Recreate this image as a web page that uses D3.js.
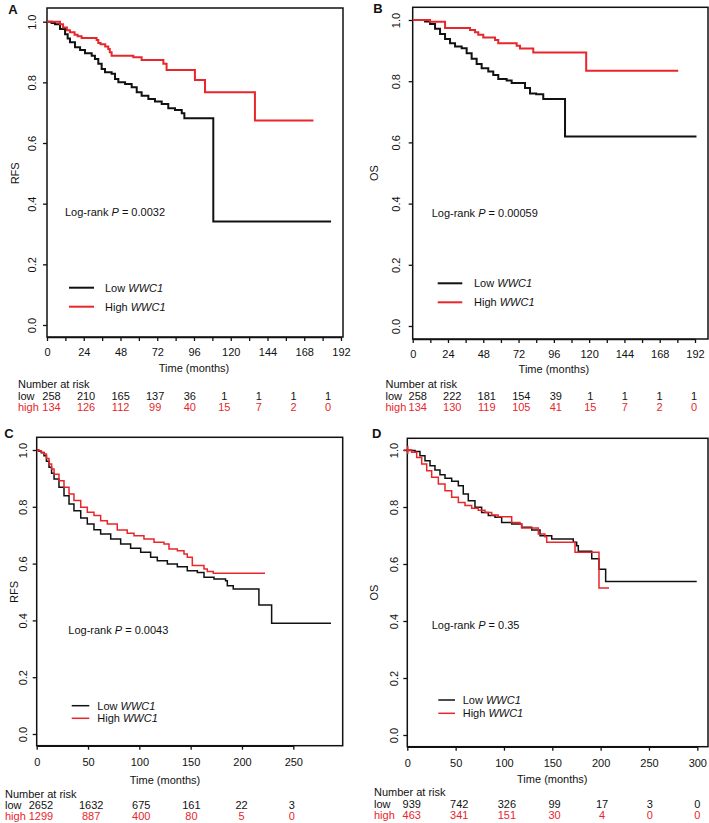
<!DOCTYPE html>
<html>
<head>
<meta charset="utf-8">
<script src="https://cdn.jsdelivr.net/npm/d3@7"></script>
<style>
    body { margin: 0; background: #fff; }
    svg text { font-family: "Liberation Sans", Arial, sans-serif; font-size: 11px; fill: #111; }
    .risk-high { fill: #e8262b; }
</style>
</head>
<body>
<div id="chart"></div>
<script>

// ---- data: Kaplan-Meier step points [months, survival] ----
const rfsA_low = [[0,1],[3,0.996],[5.2,0.992],[8.5,0.976],[11.8,0.959],[13.5,0.945],[15,0.932],[18.3,0.916],[21.6,0.907],[24.8,0.896],[29.2,0.888],[31.3,0.877],[33.5,0.861],[35.7,0.844],[37.9,0.833],[42.2,0.828],[44.4,0.811],[46.6,0.8],[51,0.795],[55.3,0.784],[58.6,0.767],[61.8,0.756],[66.2,0.745],[70.5,0.737],[74.9,0.729],[79.2,0.715],[83.6,0.709],[88,0.698],[89.7,0.682],[108.6,0.341],[185.5,0.341]];
const rfsA_high = [[0,1],[8.5,0.992],[10.5,0.981],[13,0.972],[15,0.965],[18,0.957],[20,0.952],[22.6,0.946],[32.4,0.94],[33.5,0.93],[35,0.926],[38,0.918],[40,0.91],[41,0.899],[42.2,0.888],[56.4,0.883],[61.8,0.874],[76,0.861],[78.1,0.841],[96.6,0.808],[103.2,0.767],[135.8,0.674],[174,0.674]];

const osB_low = [[0,1],[8.4,0.995],[11.8,0.987],[15.2,0.971],[18.6,0.954],[22,0.938],[25.4,0.924],[28.8,0.913],[33.3,0.908],[36.7,0.891],[40.1,0.873],[43.5,0.856],[46.9,0.842],[51.4,0.832],[54.8,0.82],[58.2,0.807],[63.9,0.802],[67.3,0.794],[76.4,0.778],[79.8,0.76],[84,0.757],[88.8,0.742],[103.6,0.619],[193,0.619]];
const osB_high = [[0,1],[11.8,0.994],[22,0.974],[39,0.967],[42.4,0.96],[44.6,0.952],[48,0.943],[56,0.935],[58.2,0.924],[70.7,0.916],[73,0.907],[82,0.894],[118,0.834],[180.6,0.834]];

const rfsC_low = [[0,1],[2,0.996],[4.5,0.99],[7.1,0.98],[9.5,0.96],[12,0.939],[14.5,0.918],[16.9,0.898],[21.7,0.869],[26.6,0.839],[31.5,0.81],[36.3,0.786],[42.9,0.761],[49.3,0.739],[55.8,0.719],[62.3,0.704],[72.1,0.687],[81.8,0.669],[91.5,0.654],[101.3,0.64],[111,0.622],[117.5,0.61],[127.3,0.599],[137,0.589],[146.7,0.575],[156.5,0.569],[163,0.552],[172.7,0.546],[184,0.54],[185.7,0.522],[191.5,0.511],[216.5,0.454],[228.9,0.39],[286.7,0.39]];
const rfsC_high = [[0,1],[2,0.997],[4.5,0.992],[7.1,0.986],[9.5,0.97],[12,0.951],[14.5,0.933],[16.9,0.915],[21.7,0.892],[26.6,0.869],[31.5,0.845],[36.3,0.822],[42.9,0.798],[49.3,0.781],[55.8,0.769],[62.3,0.751],[68.8,0.739],[78.5,0.718],[88.2,0.707],[94.8,0.698],[104.5,0.687],[114.3,0.675],[124,0.669],[128.9,0.651],[137,0.645],[143.5,0.634],[146.7,0.622],[151.6,0.593],[163,0.581],[166.2,0.572],[172,0.566],[222.4,0.566]];

const osD_low = [[0,1],[1,0.998],[8,0.995],[13.1,0.98],[18.3,0.962],[23.5,0.945],[28.6,0.93],[33.8,0.913],[39,0.901],[45.9,0.89],[52.8,0.875],[57.9,0.846],[63.1,0.822],[70,0.799],[76.9,0.781],[83.8,0.77],[90.7,0.764],[97.6,0.746],[108,0.74],[118.3,0.729],[128.7,0.719],[137.3,0.699],[149.4,0.688],[171.7,0.676],[175.2,0.664],[176.9,0.645],[190.8,0.618],[198.3,0.582],[205.2,0.539],[299.4,0.539]];
const osD_high = [[0,1],[4.5,0.992],[9.7,0.974],[14.9,0.951],[20.1,0.927],[25.2,0.904],[32.1,0.881],[39,0.857],[45.9,0.834],[52.8,0.816],[59.7,0.805],[66.6,0.796],[73.4,0.789],[80.4,0.781],[87.3,0.772],[94,0.766],[108,0.746],[116.6,0.74],[118.3,0.726],[135.5,0.705],[142.4,0.696],[144.2,0.676],[173.5,0.641],[198.3,0.516],[208.7,0.516]];
// censor mark visible at the start of D (high)
const osD_highCensor = [[0.5, 1]];

// ---- number at risk ----
const riskTimesAB = [0, 24, 48, 72, 96, 120, 144, 168, 192];
const riskA_low = [258, 210, 165, 137, 36, 1, 1, 1, 1];
const riskA_high = [134, 126, 112, 99, 40, 15, 7, 2, 0];
const riskB_low = [258, 222, 181, 154, 39, 1, 1, 1, 1];
const riskB_high = [134, 130, 119, 105, 41, 15, 7, 2, 0];
const riskTimesC = [0, 50, 100, 150, 200, 250];
const riskC_low = [2652, 1632, 675, 161, 22, 3];
const riskC_high = [1299, 887, 400, 80, 5, 0];
const riskTimesD = [0, 50, 100, 150, 200, 250, 300];
const riskD_low = [939, 742, 326, 99, 17, 3, 0];
const riskD_high = [463, 341, 151, 30, 4, 0, 0];

const yTicks = [0, 0.2, 0.4, 0.6, 0.8, 1.0];
const pValues = ["0.0032", "0.00059", "0.0043", "0.35"];

const RED = "#e8262b", BLACK = "#111";

const svg = d3.select("#chart").append("svg")
    .attr("width", 709)
    .attr("height", 823);

// layout of each panel (pixel positions)
const panels = [
    {letter: "A", ylab: "RFS", p: pValues[0], low: rfsA_low, high: rfsA_high, censor: [],
     box: [47, 8, 343, 337], xr: [47, 341], xmax: 192, yr: [325, 21.7],
     ticks: d3.range(0, 193, 12), labelEvery: 24, lw: 2,
     letterPos: [13, 14], ylabX: 15, ytOff: 11.5, xtY: 355.5, xlabY: 372,
     pPos: [65, 215.5], leg: [69, 94, 287.7, 306.7, 105],
     riskTimes: riskTimesAB, riskLow: riskA_low, riskHigh: riskA_high,
     riskR: [51.5, 328], riskX0: 18, riskY: [388, 400, 410.5]},
    {letter: "B", ylab: "OS", p: pValues[1], low: osB_low, high: osB_high, censor: [],
     box: [412.7, 7.3, 708, 339], xr: [412.7, 695], xmax: 192, yr: [326, 20],
     ticks: d3.range(0, 193, 12), labelEvery: 24, lw: 2,
     letterPos: [378, 13], ylabX: 374, ytOff: 12.5, xtY: 358, xlabY: 373,
     pPos: [431.7, 217], leg: [437.7, 462.3, 283.3, 302.3, 474],
     riskTimes: riskTimesAB, riskLow: riskB_low, riskHigh: riskB_high,
     riskR: [417.7, 694], riskX0: 385.5, riskY: [388, 400, 410.5]},
    {letter: "C", ylab: "RFS", p: pValues[2], low: rfsC_low, high: rfsC_high, censor: [],
     box: [36.7, 437.3, 342.7, 745.7], xr: [36.7, 293.3], xmax: 250, yr: [734, 450],
     ticks: d3.range(0, 251, 50), labelEvery: 50, lw: 1.5,
     letterPos: [9, 437.5], ylabX: 14, ytOff: 9.5, xtY: 766.5, xlabY: 784,
     pPos: [68.3, 634], leg: [71.7, 89.3, 705.7, 718.3, 97.3],
     riskTimes: riskTimesC, riskLow: riskC_low, riskHigh: riskC_high,
     riskR: [41, 291.7], riskX0: 5, riskY: [798.3, 809, 820]},
    {letter: "D", ylab: "OS", p: pValues[3], low: osD_low, high: osD_high, censor: osD_highCensor,
     box: [407.3, 438.3, 708, 746.7], xr: [407.3, 697.3], xmax: 300, yr: [735, 450],
     ticks: d3.range(0, 301, 50), labelEvery: 50, lw: 1.5,
     letterPos: [376.7, 438], ylabX: 374, ytOff: 9, xtY: 767, xlabY: 783.3,
     pPos: [431.7, 629], leg: [438.3, 455, 700, 713.3, 462.7],
     riskTimes: riskTimesD, riskLow: riskD_low, riskHigh: riskD_high,
     riskR: [411.7, 697.3], riskX0: 374, riskY: [795.7, 808, 819]}
];

panels.forEach(function(cfg) {
    let g = svg.append("g");

    let x = d3.scaleLinear().domain([0, cfg.xmax]).range(cfg.xr);
    let y = d3.scaleLinear().domain([0, 1]).range(cfg.yr);

    // box
    g.append("rect")
        .attr("x", cfg.box[0]).attr("y", cfg.box[1])
        .attr("width", cfg.box[2] - cfg.box[0])
        .attr("height", cfg.box[3] - cfg.box[1])
        .attr("fill", "none").attr("stroke", BLACK).attr("stroke-width", 1.5);

    // x axis
    let xAxis = d3.axisBottom(x)
        .tickValues(cfg.ticks)
        .tickSize(4)
        .tickSizeOuter(0)
        .tickFormat(d => d % cfg.labelEvery === 0 ? d : "");
    let xg = g.append("g")
        .attr("transform", "translate(0," + cfg.box[3] + ")")
        .call(xAxis);
    xg.select(".domain").attr("stroke", BLACK).attr("stroke-width", 1.5);
    xg.selectAll(".tick line").attr("stroke", BLACK).attr("stroke-width", 1.3);
    xg.selectAll(".tick text")
        .attr("y", cfg.xtY - cfg.box[3]).attr("dy", 0)
        .style("font-size", "11px").attr("fill", BLACK);

    // y axis with rotated labels (R style)
    let yg = g.append("g")
        .attr("transform", "translate(" + cfg.box[0] + ",0)")
        .call(d3.axisLeft(y).tickValues(yTicks).tickSize(4).tickSizeOuter(0).tickFormat(d3.format(".1f")));
    yg.select(".domain").remove();
    yg.selectAll(".tick line").attr("stroke", BLACK).attr("stroke-width", 1.3);
    yg.selectAll(".tick text")
        .attr("x", 0).attr("dy", 0)
        .attr("text-anchor", "middle")
        .attr("transform", "translate(" + (-cfg.ytOff) + ",0) rotate(-90)")
        .style("font-size", "11px").attr("fill", BLACK);

    // curves
    let line = d3.line()
        .x(d => x(d[0]))
        .y(d => y(d[1]))
        .curve(d3.curveStepAfter);

    g.append("path").datum(cfg.low)
        .attr("d", line).attr("fill", "none")
        .attr("stroke", BLACK).attr("stroke-width", cfg.lw);
    g.append("path").datum(cfg.high)
        .attr("d", line).attr("fill", "none")
        .attr("stroke", RED).attr("stroke-width", cfg.lw);

    // censor marks (+)
    g.selectAll(".censor").data(cfg.censor).enter().append("path")
        .attr("d", d => {
            let cx = x(d[0]), cy = y(d[1]);
            return "M" + (cx - 4) + "," + cy + "H" + (cx + 4) + "M" + cx + "," + (cy - 4) + "V" + (cy + 4);
        })
        .attr("stroke", RED).attr("stroke-width", 1.5);

    // panel letter
    g.append("text")
        .attr("x", cfg.letterPos[0]).attr("y", cfg.letterPos[1])
        .attr("text-anchor", "middle")
        .style("font-size", "13px").style("font-weight", "bold")
        .text(cfg.letter);

    // y label
    g.append("text")
        .attr("transform", "translate(" + (cfg.ylabX + 4) + "," + y(0.5) + ") rotate(-90)")
        .attr("text-anchor", "middle")
        .text(cfg.ylab);

    // x label
    g.append("text")
        .attr("x", (cfg.xr[0] + cfg.xr[1]) / 2)
        .attr("y", cfg.xlabY)
        .attr("text-anchor", "middle")
        .text("Time (months)");

    // log-rank p
    let pt = g.append("text").attr("x", cfg.pPos[0]).attr("y", cfg.pPos[1]);
    pt.append("tspan").text("Log-rank ");
    pt.append("tspan").style("font-style", "italic").text("P");
    pt.append("tspan").text(" = " + cfg.p);

    // legend
    let legItems = [["Low ", BLACK, cfg.leg[2]], ["High ", RED, cfg.leg[3]]];
    legItems.forEach(function(item) {
        g.append("line")
            .attr("x1", cfg.leg[0]).attr("x2", cfg.leg[1])
            .attr("y1", item[2]).attr("y2", item[2])
            .attr("stroke", item[1]).attr("stroke-width", cfg.lw);
        let t = g.append("text").attr("x", cfg.leg[4]).attr("y", item[2] + 4);
        t.append("tspan").text(item[0]);
        t.append("tspan").style("font-style", "italic").text("WWC1");
    });

    // number at risk table
    let rx = d3.scaleLinear()
        .domain([0, cfg.riskTimes[cfg.riskTimes.length - 1]])
        .range(cfg.riskR);

    g.append("text").attr("x", cfg.riskX0).attr("y", cfg.riskY[0]).text("Number at risk");
    g.append("text").attr("x", cfg.riskX0).attr("y", cfg.riskY[1]).text("low");
    g.append("text").attr("x", cfg.riskX0).attr("y", cfg.riskY[2]).attr("class", "risk-high").text("high");

    g.selectAll(".rl").data(cfg.riskLow).enter().append("text")
        .attr("x", (d, i) => rx(cfg.riskTimes[i]))
        .attr("y", cfg.riskY[1])
        .attr("text-anchor", "middle")
        .text(d => d);
    g.selectAll(".rh").data(cfg.riskHigh).enter().append("text")
        .attr("class", "risk-high")
        .attr("x", (d, i) => rx(cfg.riskTimes[i]))
        .attr("y", cfg.riskY[2])
        .attr("text-anchor", "middle")
        .text(d => d);
});

</script>
</body>
</html>
